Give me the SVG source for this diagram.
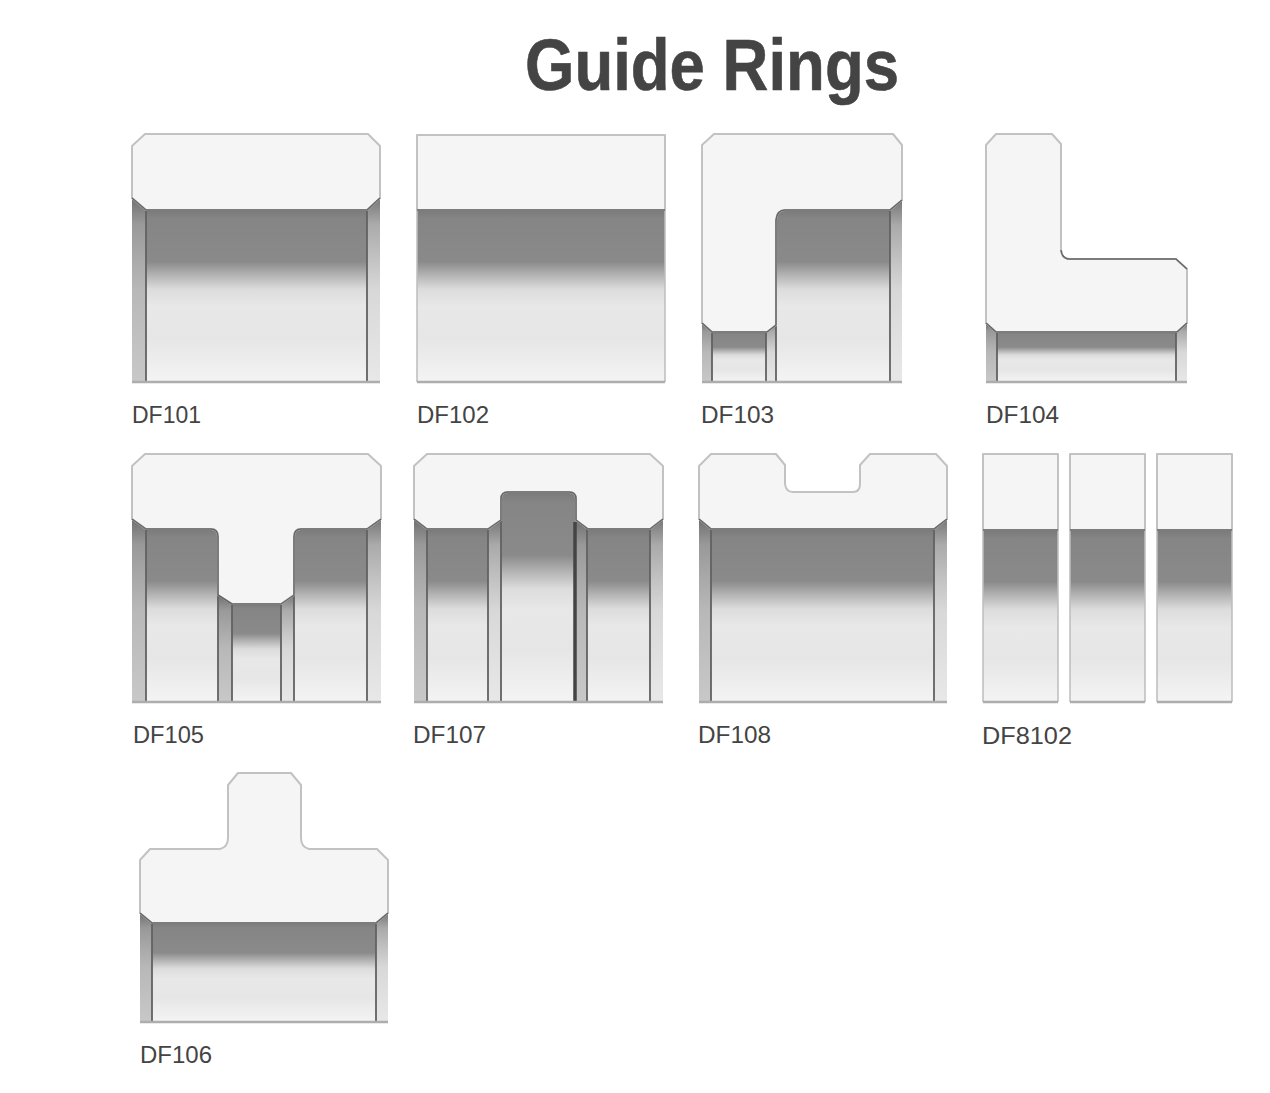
<svg xmlns="http://www.w3.org/2000/svg" width="1270" height="1093" viewBox="0 0 1270 1093">
<style>
.bg{fill:#fff}
.title{font-family:"Liberation Sans",Arial,sans-serif;font-weight:700;font-size:73px;fill:#444;stroke:#444;stroke-width:.6}
.lb{font-family:"Liberation Sans",Arial,sans-serif;font-size:24px;fill:#444}
.bore{fill:url(#bore)}
.sl{fill:url(#stripL)}
.sr{fill:url(#stripR)}
.face{fill:#f5f5f5;stroke:#c2c2c2;stroke-width:2;stroke-linejoin:round}
.edge{fill:none;stroke:#666;stroke-width:1.5;stroke-linejoin:round}
.ln{fill:none;stroke:#626262;stroke-width:1.8}
.base{fill:none;stroke:#adadad;stroke-width:2.5}
.side{fill:none;stroke:#bdbdbd;stroke-width:1.5}
</style>
<defs>
<linearGradient id="bore" x1="0" y1="0" x2="0" y2="1">
<stop offset="0" stop-color="#7a7a7a"/><stop offset="0.05" stop-color="#858585"/><stop offset="0.3" stop-color="#8a8a8a"/><stop offset="0.38" stop-color="#b4b4b4"/><stop offset="0.46" stop-color="#dcdcdc"/><stop offset="0.56" stop-color="#e8e8e8"/><stop offset="0.75" stop-color="#e6e6e6"/><stop offset="1" stop-color="#f4f4f4"/>
</linearGradient>
<linearGradient id="stripL" x1="0" y1="0" x2="0" y2="1">
<stop offset="0" stop-color="#707070"/><stop offset="0.14" stop-color="#999"/><stop offset="0.5" stop-color="#b8b8b8"/><stop offset="1" stop-color="#c8c8c8"/>
</linearGradient>
<linearGradient id="stripR" x1="0" y1="0" x2="0" y2="1">
<stop offset="0" stop-color="#777"/><stop offset="0.14" stop-color="#aaa"/><stop offset="0.5" stop-color="#d8d8d8"/><stop offset="1" stop-color="#e8e8e8"/>
</linearGradient>
</defs>
<rect class="bg" width="1270" height="1093"/>
<text id="title" class="title" x="525" y="90" textLength="374" lengthAdjust="spacingAndGlyphs">Guide Rings</text>

<g id="DF101">
<rect class="sl" x="132" y="198" width="14" height="184"/><rect class="sr" x="367" y="198" width="13" height="184"/>
<rect class="bore" x="146" y="210" width="221" height="172"/>
<path class="ln" d="M146 210V382M367 210V382"/>
<path class="base" d="M132 382H380"/>
<path class="face" d="M132 198V146L145 134H368L380 146V198L367 210H146Z"/>
<path class="edge" d="M132 198L146 210H367L380 198"/>
<text class="lb" x="132" y="423" textLength="69" lengthAdjust="spacingAndGlyphs">DF101</text>
</g>

<g id="DF102">
<rect class="bore" x="417" y="210" width="248" height="172"/>
<path class="side" d="M417 210V382M665 210V382"/>
<path class="base" d="M417 382H665"/>
<path class="face" d="M417 135H665V210H417Z"/>
<path class="edge" d="M417 210H665"/>
<text class="lb" x="417" y="423" textLength="72" lengthAdjust="spacingAndGlyphs">DF102</text>
</g>

<g id="DF103">
<rect class="sl" x="702" y="323" width="10" height="59"/><rect class="sr" x="766" y="323" width="10" height="59"/>
<rect class="bore" x="712" y="332" width="54" height="50"/>
<rect class="bore" x="776" y="210" width="114" height="172"/>
<rect class="sr" x="890" y="200" width="12" height="182"/>
<path class="ln" d="M712 332V382M766 332V382M776 225V382M890 210V382"/>
<path class="base" d="M702 382H902"/>
<path class="face" d="M702 323V145L714 134H893L902 145V200L890 210H785Q777 210 776 220V325L767 332H712Z"/>
<path class="edge" d="M702 323L712 332H767L776 325M776 325V220Q777 210 785 210H890L902 200"/>
<text class="lb" x="701" y="423" textLength="73" lengthAdjust="spacingAndGlyphs">DF103</text>
</g>

<g id="DF104">
<rect class="sl" x="986" y="323" width="11" height="59"/><rect class="sr" x="1176" y="323" width="11" height="59"/>
<rect class="bore" x="997" y="332" width="179" height="50"/>
<path class="ln" d="M997 332V382M1176 332V382"/>
<path class="base" d="M986 382H1187"/>
<path class="face" d="M986 323V145L996 134H1052L1061 144V250Q1062 259 1070 259H1176L1187 269V323L1177 332H996Z"/>
<path class="edge" d="M1061 250Q1062 259 1070 259H1176L1187 269"/>
<path class="edge" d="M986 323L996 332H1177L1187 323"/>
<text class="lb" x="986" y="423" textLength="73" lengthAdjust="spacingAndGlyphs">DF104</text>
</g>

<g id="DF105">
<rect class="sl" x="132" y="519" width="14" height="183"/>
<rect class="bore" x="146" y="529" width="72" height="173"/>
<rect class="sl" x="218" y="595" width="14" height="107"/>
<rect class="bore" x="232" y="604" width="49" height="98"/>
<rect class="sr" x="281" y="595" width="13" height="107"/>
<rect class="bore" x="294" y="529" width="73" height="173"/>
<rect class="sr" x="367" y="519" width="14" height="183"/>
<path class="ln" d="M146 529V702M218 535V702M232 604V702M281 604V702M294 535V702M367 529V702"/>
<path class="base" d="M132 702H381"/>
<path class="face" d="M132 519V466L145 454H368L381 466V519L367 529H301Q294 529 294 537V595L281 604H232L218 595V537Q218 529 211 529H146Z"/>
<path class="edge" d="M132 519L146 529H211Q218 529 218 537V595L232 604H281L294 595V537Q294 529 301 529H367L381 519"/>
<text class="lb" x="133" y="743" textLength="71" lengthAdjust="spacingAndGlyphs">DF105</text>
</g>

<g id="DF107">
<rect class="sl" x="414" y="519" width="13" height="183"/>
<rect class="bore" x="427" y="529" width="61" height="173"/>
<rect class="sr" x="488" y="520" width="13" height="182"/>
<rect class="bore" x="501" y="492" width="75" height="210"/>
<rect class="sl" x="576" y="520" width="11" height="182"/>
<rect class="bore" x="587" y="529" width="63" height="173"/>
<rect class="sr" x="650" y="519" width="13" height="183"/>
<path class="ln" d="M427 529V702M488 529V702M501 500V702M587 529V702M650 529V702"/>
<path fill="none" stroke="#444" stroke-width="3.5" d="M575 522V702"/>
<path class="base" d="M414 702H663"/>
<path class="face" d="M414 519V466L427 454H650L663 466V519L650 529H588L576 520V499Q576 492 569 492H508Q501 492 501 499V520L488 529H427Z"/>
<path class="edge" d="M414 519L427 529H488L501 520V499Q501 492 508 492H569Q576 492 576 499V520L588 529H650L663 519"/>
<text class="lb" x="413" y="743" textLength="73" lengthAdjust="spacingAndGlyphs">DF107</text>
</g>

<g id="DF108">
<rect class="sl" x="699" y="519" width="12" height="183"/>
<rect class="bore" x="711" y="529" width="223" height="173"/>
<rect class="sr" x="934" y="519" width="13" height="183"/>
<path class="ln" d="M711 529V702M934 529V702"/>
<path class="base" d="M699 702H947"/>
<path class="face" d="M699 519V466L711 454H776L785 465V484Q786 492 793 492H853Q860 492 860 484V465L870 454H936L947 466V519L934 529H711Z"/>
<path class="edge" d="M699 519L711 529H934L947 519"/>
<text class="lb" x="698" y="743" textLength="73" lengthAdjust="spacingAndGlyphs">DF108</text>
</g>

<g id="DF8102">
<rect class="bore" x="983" y="530" width="75" height="172"/>
<rect class="bore" x="1070" y="530" width="75" height="172"/>
<rect class="bore" x="1157" y="530" width="75" height="172"/>
<path class="side" d="M983 530V702M1058 530V702M1070 530V702M1145 530V702M1157 530V702M1232 530V702"/>
<path class="base" d="M983 702H1058M1070 702H1145M1157 702H1232"/>
<path class="face" d="M983 454H1058V530H983Z"/>
<path class="face" d="M1070 454H1145V530H1070Z"/>
<path class="face" d="M1157 454H1232V530H1157Z"/>
<path class="edge" d="M983 530H1058M1070 530H1145M1157 530H1232"/>
<text class="lb" x="982" y="744" textLength="90" lengthAdjust="spacingAndGlyphs">DF8102</text>
</g>

<g id="DF106">
<rect class="sl" x="140" y="913" width="12" height="109"/>
<rect class="bore" x="152" y="923" width="224" height="99"/>
<rect class="sr" x="376" y="913" width="12" height="109"/>
<path class="ln" d="M152 923V1022M376 923V1022"/>
<path class="base" d="M140 1022H388"/>
<path class="face" d="M140 913V860L150 849H220Q228 847 228 838V785L238 773H291L301 785V838Q301 847 309 849H377L388 860V913L376 923H152Z"/>
<path class="edge" d="M140 913L152 923H376L388 913"/>
<text class="lb" x="140" y="1063" textLength="72" lengthAdjust="spacingAndGlyphs">DF106</text>
</g>
</svg>
